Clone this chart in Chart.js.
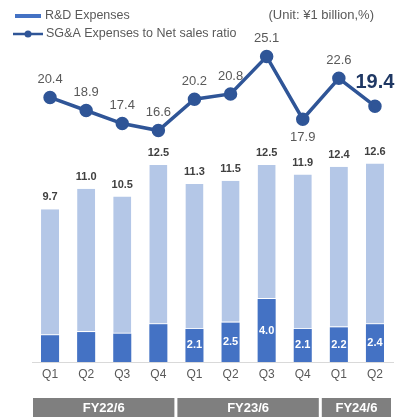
<!DOCTYPE html>
<html>
<head>
<meta charset="utf-8">
<script src="https://cdn.jsdelivr.net/npm/chart.js@4"></script>
<style>
  html, body { margin: 0; padding: 0; background: #fff; }
</style>
</head>
<body>
<canvas id="gastosChart" width="407" height="417"></canvas>
<script>
const ctx = document.getElementById('gastosChart').getContext('2d');

// Datos
const quarters = ['Q1', 'Q2', 'Q3', 'Q4', 'Q1', 'Q2', 'Q3', 'Q4', 'Q1', 'Q2'];
const rdExpenses = [1.7, 1.9, 1.8, 2.4, 2.1, 2.5, 4.0, 2.1, 2.2, 2.4];
const totalExpenses = [9.7, 11.0, 10.5, 12.5, 11.3, 11.5, 12.5, 11.9, 12.4, 12.6];
const sgaRatio = [20.4, 18.9, 17.4, 16.6, 20.2, 20.8, 25.1, 17.9, 22.6, 19.4];
const rdLabelShown = [false, false, false, false, true, true, true, true, true, true];
const fiscalYears = ['FY22/6', 'FY23/6', 'FY24/6'];
const fiscalSpans = [4, 4, 2];

// Resto de la barra (parte clara) = total - I+D
const otherExpenses = totalExpenses.map((t, i) => +(t - rdExpenses[i]).toFixed(1));

const colors = {
    rd: '#4472C4',
    other: '#B4C7E7',
    line: '#2F5597',
    text: '#595959',
    dark: '#404040',
    box: '#7F7F7F'
};

const FONT = '"Liberation Sans", Arial, sans-serif';

// Etiquetas, leyenda y cajas de año fiscal
const labelsPlugin = {
    id: 'labelsPlugin',
    afterDatasetsDraw(chart) {
        const c = chart.ctx;
        const rdMeta = chart.getDatasetMeta(1);
        const otherMeta = chart.getDatasetMeta(2);
        const lineMeta = chart.getDatasetMeta(0);
        c.save();
        c.textAlign = 'center';
        c.textBaseline = 'middle';

        // totales sobre las barras
        c.font = 'bold 11px ' + FONT;
        c.fillStyle = colors.dark;
        otherMeta.data.forEach((bar, i) => {
            c.fillText(totalExpenses[i].toFixed(1), bar.x, bar.y - 12);
        });

        // valores de I+D dentro de la barra oscura
        c.fillStyle = '#ffffff';
        rdMeta.data.forEach((bar, i) => {
            if (!rdLabelShown[i]) return;
            c.fillText(rdExpenses[i].toFixed(1), bar.x, (bar.y + bar.base) / 2);
        });

        // valores de la línea
        lineMeta.data.forEach((pt, i) => {
            const last = i === sgaRatio.length - 1;
            if (last) {
                c.font = 'bold 20px ' + FONT;
                c.fillStyle = '#1F3864';
                c.fillText(sgaRatio[i].toFixed(1), pt.x, pt.y - 24);
            } else {
                c.font = '13px ' + FONT;
                c.fillStyle = colors.text;
                const dy = i === 7 ? 18 : -18;
                c.fillText(sgaRatio[i].toFixed(1), pt.x, pt.y + dy);
            }
        });

        // cajas de año fiscal
        const xs = chart.scales.x;
        const half = (xs.getPixelForValue(1) - xs.getPixelForValue(0)) / 2;
        let start = 0;
        fiscalYears.forEach((fy, k) => {
            const end = start + fiscalSpans[k] - 1;
            const left = xs.getPixelForValue(start) - half + 1;
            const right = xs.getPixelForValue(end) + half - 2;
            c.fillStyle = colors.box;
            c.fillRect(left, 398, right - left, 19);
            c.fillStyle = '#ffffff';
            c.font = 'bold 13px ' + FONT;
            c.fillText(fy, (left + right) / 2, 408);
            start = end + 1;
        });

        // leyenda
        c.textAlign = 'left';
        c.font = '12.5px ' + FONT;
        c.fillStyle = colors.rd;
        c.fillRect(15, 14, 26, 4);
        c.fillStyle = colors.text;
        c.fillText('R&D Expenses', 45, 16);
        c.strokeStyle = colors.line;
        c.lineWidth = 2.5;
        c.beginPath();
        c.moveTo(13, 34);
        c.lineTo(43, 34);
        c.stroke();
        c.fillStyle = colors.line;
        c.beginPath();
        c.arc(28, 34, 3.5, 0, Math.PI * 2);
        c.fill();
        c.fillStyle = colors.text;
        c.fillText('SG&A Expenses to Net sales ratio', 46, 34);

        // unidad
        c.textAlign = 'right';
        c.font = '13px ' + FONT;
        c.fillText('(Unit: ¥1 billion,%)', 374, 15);
        c.restore();
    }
};

new Chart(ctx, {
    data: {
        labels: quarters,
        datasets: [
            {
                type: 'line',
                label: 'SG&A Expenses to Net sales ratio',
                data: sgaRatio,
                yAxisID: 'yRatio',
                borderColor: colors.line,
                backgroundColor: colors.line,
                borderWidth: 3.5,
                pointRadius: 5,
                pointHoverRadius: 5,
                tension: 0,
                order: 0
            },
            {
                type: 'bar',
                label: 'R&D Expenses',
                data: rdExpenses,
                yAxisID: 'yBar',
                backgroundColor: colors.rd,
                barPercentage: 0.5,
                categoryPercentage: 1,
                order: 1
            },
            {
                type: 'bar',
                label: 'Other',
                data: otherExpenses,
                yAxisID: 'yBar',
                backgroundColor: colors.other,
                borderColor: '#ffffff',
                borderWidth: { top: 0, left: 0, right: 0, bottom: 1 },
                borderSkipped: false,
                barPercentage: 0.5,
                categoryPercentage: 1,
                order: 2
            }
        ]
    },
    options: {
        responsive: false,
        animation: false,
        layout: { padding: { left: 32, right: 14, top: 20, bottom: 30.6 } },
        plugins: {
            legend: { display: false },
            tooltip: { enabled: false }
        },
        scales: {
            x: {
                stacked: true,
                grid: { display: false, drawTicks: false },
                border: { display: true, color: '#D9D9D9', width: 1 },
                ticks: { color: colors.text, font: { size: 12, family: FONT }, padding: 5 }
            },
            yBar: {
                display: false,
                stacked: true,
                min: 0,
                max: 21.71
            },
            yRatio: {
                display: false,
                min: -10,
                max: 29.3
            }
        }
    },
    plugins: [labelsPlugin]
});
</script>
</body>
</html>
